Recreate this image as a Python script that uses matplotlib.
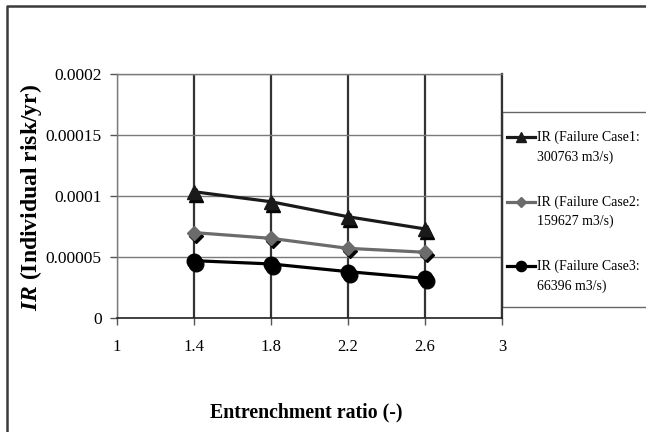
import matplotlib
matplotlib.use("Agg")
import matplotlib.pyplot as plt
from matplotlib.lines import Line2D
from matplotlib.patches import Rectangle
from matplotlib.transforms import offset_copy

plt.rcParams['font.family'] = ['Liberation Serif', 'DejaVu Serif']
plt.rcParams['mathtext.fontset'] = 'custom'
plt.rcParams['mathtext.bf'] = 'Liberation Serif:bold:italic'

# data
ratio = [1.4, 1.8, 2.2, 2.6]
ir_case1 = [0.0001035, 0.0000953, 0.0000830, 0.0000730]
ir_case2 = [0.0000700, 0.0000653, 0.0000571, 0.0000539]
ir_case3 = [0.0000470, 0.0000443, 0.0000380, 0.0000325]
labels = ['IR (Failure Case1:\n300763 m3/s)',
          'IR (Failure Case2:\n159627 m3/s)',
          'IR (Failure Case3:\n66396 m3/s)']
xticks = [1, 1.4, 1.8, 2.2, 2.6, 3]
xticklabels = ['1', '1.4', '1.8', '2.2', '2.6', '3']
yticks = [0, 0.00005, 0.0001, 0.00015, 0.0002]
yticklabels = ['0', '0.00005', '0.0001', '0.00015', '0.0002']

fig = plt.figure(figsize=(6.46, 4.32), dpi=100)
ax = fig.add_axes([117 / 646, 1 - 318 / 432, 385 / 646, 244 / 432])

series = [
    (ir_case1, '^', 10, '#1a1a1a', labels[0]),
    (ir_case2, 'D', 7, '#6b6b6b', labels[1]),
    (ir_case3, 'o', 10.5, '#000000', labels[2]),
]

# shadow under the markers, like the excel 3d look
shadow = offset_copy(ax.transData, fig=fig, x=2, y=-3, units='dots')
for vals, mk, ms, col, lab in series:
    ax.plot(ratio, vals, linestyle='none', marker=mk, markersize=ms,
            color='#050505', transform=shadow, zorder=3, clip_on=False)
handles = []
for vals, mk, ms, col, lab in series:
    h, = ax.plot(ratio, vals, marker=mk, markersize=ms, color=col,
                 lw=2.3, label=lab, zorder=4, clip_on=False)
    handles.append(h)

ax.set_xlim(1, 3)
ax.set_ylim(0, 0.0002)
ax.set_xticks(xticks)
ax.set_xticklabels(xticklabels, fontsize=12)
ax.set_yticks(yticks)
ax.set_yticklabels(yticklabels, fontsize=12.5)
ax.tick_params(axis='both', direction='out', length=5, width=1, color='#555555', pad=6)
ax.tick_params(axis='x', pad=10)

ax.yaxis.grid(True, color='#7a7a7a', lw=1)
ax.xaxis.grid(True, color='#333333', lw=1.6)
ax.set_axisbelow(True)
for side in ['left', 'right', 'top']:
    ax.spines[side].set_color('#7a7a7a')
    ax.spines[side].set_linewidth(1)
ax.spines['right'].set_color('#333333')
ax.spines['right'].set_linewidth(1.6)
ax.spines['bottom'].set_color('#222222')
ax.spines['bottom'].set_linewidth(1.2)

# legend box, open to the right like the source
ax.add_patch(Rectangle((1.0, 11 / 244), 0.5, 195 / 244, transform=ax.transAxes,
                       facecolor='white', edgecolor='#666666', lw=1,
                       clip_on=False, zorder=1))
leg = ax.legend(handles=handles, loc='upper left',
                bbox_to_anchor=(1.0, (318 - 126) / 244), frameon=False,
                fontsize=10, handlelength=2.0, markerscale=0.7,
                handletextpad=0.2, labelspacing=2.25, borderpad=0.35,
                borderaxespad=0)
for t in leg.get_texts():
    t.set_linespacing(1.6)
# put the legend sample on the first text line
for h in leg.legend_handles:
    h.set_ydata([y + 7.5 for y in h.get_ydata()])

fig.text(31 / 646, 1 - 197 / 432, r'$\mathbf{IR}$ (Individual risk/yr)',
         rotation=90, ha='center', va='center', fontsize=17, fontweight='bold')
fig.text(306 / 646, 1 - 412 / 432, 'Entrenchment ratio (-)',
         ha='center', va='center', fontsize=14.3, fontweight='bold')

# outer frame (left and top edges only, as in the source)
fig.add_artist(Line2D([7 / 646, 7 / 646, 1], [0, 1 - 6 / 432, 1 - 6 / 432],
                      transform=fig.transFigure, color='#3a3a3a', lw=1.8))

fig.savefig('out.png', dpi=100)
